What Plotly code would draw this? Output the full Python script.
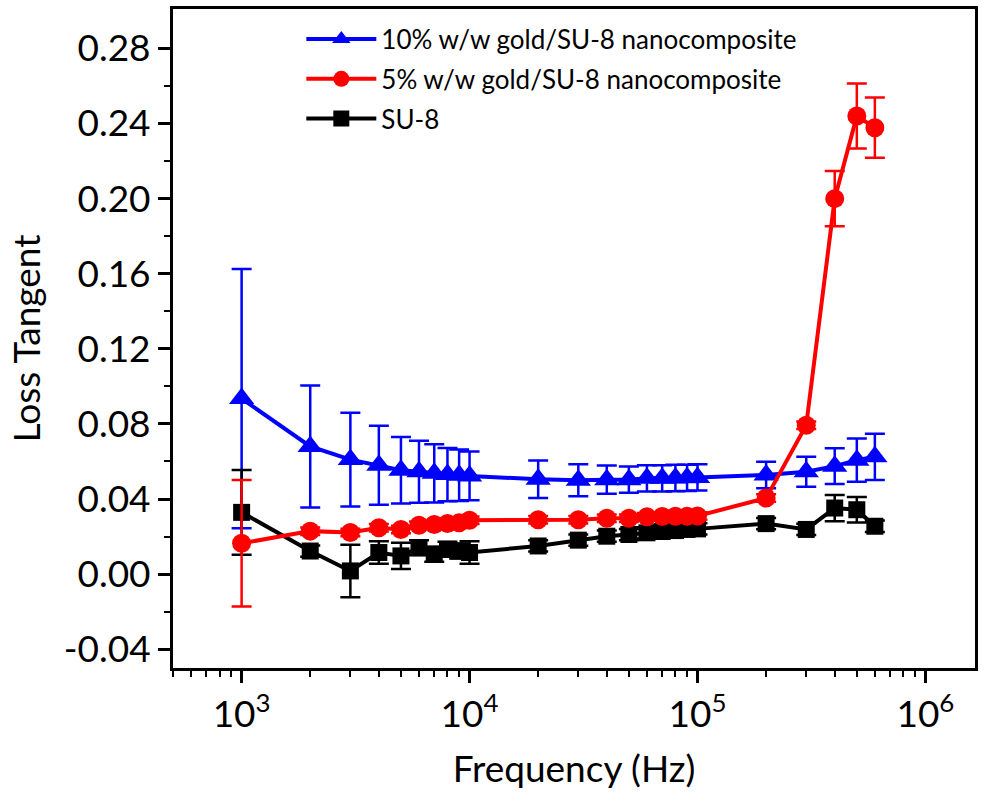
import plotly.graph_objects as go
import numpy as np

freq = [1e3, 2e3, 3e3, 4e3, 5e3, 6e3, 7e3, 8e3, 9e3, 1e4,
        2e4, 3e4, 4e4, 5e4, 6e4, 7e4, 8e4, 9e4, 1e5,
        2e5, 3e5, 4e5, 5e5, 6e5]

au10 = [0.0935, 0.068, 0.061, 0.058, 0.0553, 0.0545, 0.0537, 0.0530, 0.0527, 0.0523,
        0.0505, 0.0500, 0.0503, 0.0503, 0.0510, 0.0510, 0.0512, 0.0513, 0.0515,
        0.0528, 0.0545, 0.0575, 0.0607, 0.0625]
au10_err = [0.069, 0.0325, 0.025, 0.021, 0.0177, 0.0165, 0.0155, 0.0142, 0.0137, 0.013,
            0.010, 0.0085, 0.0075, 0.007, 0.007, 0.007, 0.007, 0.007, 0.007,
            0.007, 0.008, 0.0095, 0.0115, 0.0123]

au5 = [0.0164, 0.0229, 0.0222, 0.0247, 0.0238, 0.026, 0.0264, 0.027, 0.0273, 0.0287,
       0.029, 0.029, 0.0298, 0.0298, 0.0305, 0.0307, 0.0308, 0.0308, 0.031,
       0.0405, 0.0793, 0.200, 0.244, 0.2378]
au5_err = [0.0337, 0.002, 0.002, 0.002, 0.002, 0.002, 0.002, 0.002, 0.002, 0.002,
           0.002, 0.002, 0.002, 0.002, 0.002, 0.002, 0.002, 0.002, 0.002,
           0.002, 0.002, 0.0147, 0.0173, 0.016]

su8 = [0.0329, 0.0123, 0.0017, 0.0115, 0.0097, 0.0141, 0.0106, 0.0132, 0.0123, 0.0115,
       0.015, 0.0181, 0.0202, 0.0211, 0.022, 0.0227, 0.0232, 0.0238, 0.0241,
       0.0269, 0.0238, 0.0352, 0.0343, 0.0255]
su8_err = [0.0226, 0.003, 0.014, 0.006, 0.007, 0.004, 0.004, 0.004, 0.004, 0.006,
           0.003, 0.003, 0.003, 0.003, 0.003, 0.003, 0.003, 0.003, 0.003,
           0.003, 0.003, 0.007, 0.0068, 0.003]

x_major = [1e3, 1e4, 1e5, 1e6]
x_major_text = ["10<sup>3</sup>", "10<sup>4</sup>", "10<sup>5</sup>", "10<sup>6</sup>"]
x_minor = [m * 10 ** e for e in range(2, 7) for m in range(2, 10)]
y_major = [-0.04, 0.00, 0.04, 0.08, 0.12, 0.16, 0.20, 0.24, 0.28]
y_minor = [-0.02, 0.02, 0.06, 0.10, 0.14, 0.18, 0.22, 0.26]

FONT = "Lato"

fig = go.Figure()

def add(name, y, err, color, symbol, size, rank):
    fig.add_trace(go.Scatter(
        x=freq, y=y, name=name, mode="lines+markers",
        line=dict(color=color, width=4),
        marker=dict(symbol=symbol, size=size, color=color),
        error_y=dict(type="data", array=err, visible=True, color=color,
                     thickness=2.5, width=10),
        legendrank=rank, legendgroup=name,
    ))

add("10% w/w gold/SU-8 nanocomposite", au10, au10_err, "#0000FF", "triangle-up", 22, 1)
add("SU-8", su8, su8_err, "#000000", "square", 17, 3)
add("5% w/w gold/SU-8 nanocomposite", au5, au5_err, "#FF0000", "circle", 19, 2)

fig.update_layout(
    width=985, height=796,
    margin=dict(l=173, r=10, t=6, b=128),
    paper_bgcolor="white", plot_bgcolor="white",
    font=dict(family=FONT, color="black"),
    showlegend=True,
    legend=dict(x=0.16, y=0.99, xanchor="left", yanchor="top",
                bgcolor="rgba(0,0,0,0)", font=dict(size=26, family=FONT),
                itemwidth=70, tracegroupgap=3),
)

fig.update_xaxes(
    type="log", range=[np.log10(500), np.log10(1.65e6)],
    showline=True, linecolor="black", linewidth=3, mirror=True,
    showgrid=False, zeroline=False,
    tickmode="array", tickvals=x_major, ticktext=x_major_text,
    ticks="outside", ticklen=12, tickwidth=2.5, tickcolor="black",
    tickfont=dict(size=37, family=FONT),
    minor=dict(tickmode="array", tickvals=x_minor, ticks="outside",
               ticklen=6, tickwidth=2, tickcolor="black", showgrid=False),
    title=dict(text="Frequency (Hz)", font=dict(size=37, family=FONT), standoff=22),
)

fig.update_yaxes(
    range=[-0.05, 0.301],
    showline=True, linecolor="black", linewidth=3, mirror=True,
    showgrid=False, zeroline=False,
    tickmode="array", tickvals=y_major,
    ticktext=[f"{v:.2f}" for v in y_major],
    ticks="outside", ticklen=12, tickwidth=2.5, tickcolor="black",
    tickfont=dict(size=37, family=FONT),
    minor=dict(tickmode="array", tickvals=y_minor, ticks="outside",
               ticklen=6, tickwidth=2, tickcolor="black", showgrid=False),
    title=dict(text="Loss Tangent", font=dict(size=37, family=FONT), standoff=12),
)

fig.write_html("out.html")
